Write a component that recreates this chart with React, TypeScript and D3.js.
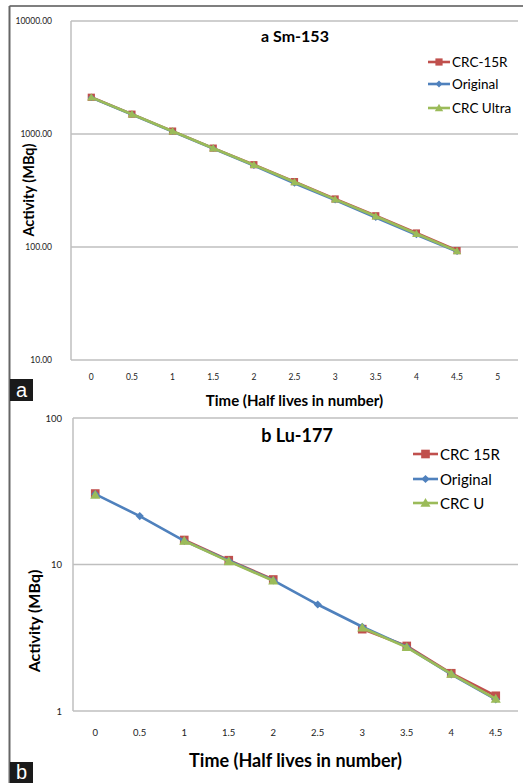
import React from "react";
import * as d3 from "d3";

// ---------- Data ----------
const smCategories = ["0", "0.5", "1", "1.5", "2", "2.5", "3", "3.5", "4", "4.5", "5"];
const smCrc15R: (number | null)[] = [2115, 1498, 1061, 750, 535, 379, 266, 189, 133, 93, null];
const smOriginal: (number | null)[] = [2100, 1490, 1050, 745, 525, 366, 260, 182, 128, 91, null];
const smCrcUltra: (number | null)[] = [2110, 1495, 1058, 748, 532, 376, 264, 187, 131, 92, null];
const smTicks = [10, 100, 1000, 10000];
const smLegend = ["CRC-15R", "Original", "CRC Ultra"];

const luCategories = ["0", "0.5", "1", "1.5", "2", "2.5", "3", "3.5", "4", "4.5"];
const luCrc15R: (number | null)[] = [30.5, null, 14.7, 10.7, 7.9, null, 3.62, 2.78, 1.81, 1.27];
const luOriginal: (number | null)[] = [30.2, 21.4, 14.5, 10.6, 7.8, 5.33, 3.76, 2.74, 1.78, 1.2];
const luCrcU: (number | null)[] = [29.8, null, 14.5, 10.5, 7.75, null, 3.7, 2.72, 1.79, 1.21];
const luTicks = [1, 10, 100];
const luLegend = ["CRC 15R", "Original", "CRC U"];

const RED = "#C0504D";
const BLUE = "#4F81BD";
const GREEN = "#9BBB59";
const GRID = "#BFBFBF";
const FONT = "Lato, 'Open Sans', sans-serif";

type PanelProps = {
  categories: string[];
  series: (number | null)[][];
  legend: string[];
  ticks: number[];
  tickFmt: (v: number) => string;
  x0: number; x1: number; yTop: number; yBot: number;
  domain: [number, number];
  title: string; titleX: number; titleY: number; titleSize: number;
  tickSize: number; yTickX: number; xTickY: number;
  xTitleY: number; xTitleSize: number;
  yTitleX: number; yTitleY: number; yTitleSize: number;
  legX: number; legYs: number[]; legSize: number; legLen: number;
  markerScale: number;
};

function Marker({ kind, x, y, s }: { kind: number; x: number; y: number; s: number }) {
  if (kind === 0) {
    const h = 3.6 * s;
    return <rect x={x - h} y={y - h} width={2 * h} height={2 * h} fill={RED} />;
  }
  if (kind === 1) {
    const h = 3.4 * s;
    return <path d={`M${x},${y - h}L${x + h},${y}L${x},${y + h}L${x - h},${y}Z`} fill={BLUE} />;
  }
  const h = 4.2 * s;
  return <path d={`M${x},${y - h}L${x + h},${y + h * 0.75}L${x - h},${y + h * 0.75}Z`} fill={GREEN} />;
}

function Panel(p: PanelProps) {
  const x = d3.scaleBand<string>().domain(p.categories).range([p.x0, p.x1]);
  const cx = (c: string) => (x(c) as number) + x.bandwidth() / 2;
  const y = d3.scaleLog().domain(p.domain).range([p.yBot, p.yTop]);
  const colors = [RED, BLUE, GREEN];
  const line = d3
    .line<number | null>()
    .defined((d) => d != null)
    .x((_, i) => cx(p.categories[i]))
    .y((d) => y(d as number));
  return (
    <g>
      {p.ticks.map((t) => (
        <g key={t}>
          <line x1={p.x0} x2={p.x1} y1={y(t)} y2={y(t)} stroke={GRID} strokeWidth={1.5} />
          <text x={p.yTickX} y={y(t)} textAnchor="end" dominantBaseline="central" fontSize={p.tickSize} fill="#222" fontFamily={FONT}>
            {p.tickFmt(t)}
          </text>
        </g>
      ))}
      <line x1={p.x0} x2={p.x0} y1={p.yTop} y2={p.yBot} stroke={GRID} strokeWidth={1.5} />
      {p.categories.map((c) => (
        <text key={c} x={cx(c)} y={p.xTickY} textAnchor="middle" dominantBaseline="central" fontSize={p.tickSize} fill="#222" fontFamily={FONT}>
          {c}
        </text>
      ))}
      {p.series.map((s, k) => (
        <g key={k}>
          <path d={line(s) || ""} fill="none" stroke={colors[k]} strokeWidth={2.6} strokeLinejoin="round" />
          {s.map((v, i) =>
            v == null ? null : <Marker key={i} kind={k} x={cx(p.categories[i])} y={y(v)} s={p.markerScale} />
          )}
        </g>
      ))}
      <text x={p.titleX} y={p.titleY} textAnchor="middle" dominantBaseline="central" fontSize={p.titleSize} fontWeight="bold" fill="#000" fontFamily={FONT}>
        {p.title}
      </text>
      <text x={(p.x0 + p.x1) / 2} y={p.xTitleY} textAnchor="middle" dominantBaseline="central" fontSize={p.xTitleSize} fontWeight="bold" fill="#000" fontFamily={FONT}>
        Time (Half lives in number)
      </text>
      <text transform={`translate(${p.yTitleX},${p.yTitleY}) rotate(-90)`} textAnchor="middle" dominantBaseline="central" fontSize={p.yTitleSize} fontWeight="bold" fill="#000" fontFamily={FONT}>
        Activity (MBq)
      </text>
      {p.legend.map((name, k) => (
        <g key={name}>
          <line x1={p.legX} x2={p.legX + p.legLen} y1={p.legYs[k]} y2={p.legYs[k]} stroke={colors[k]} strokeWidth={2.6} />
          <Marker kind={k} x={p.legX + p.legLen / 2} y={p.legYs[k]} s={p.markerScale} />
          <text x={p.legX + p.legLen + 2} y={p.legYs[k]} dominantBaseline="central" fontSize={p.legSize} fill="#000" fontFamily={FONT}>
            {name}
          </text>
        </g>
      ))}
    </g>
  );
}

export default function App() {
  const W = 523;
  const H = 783;
  return (
    <svg width={W} height={H} style={{ position: "absolute", left: 0, top: 0, background: "#fff" }}>
      <rect x={0} y={0} width={W} height={H} fill="#fff" />
      <line x1={9.5} x2={W} y1={6} y2={6} stroke="#555" strokeWidth={1.5} />
      <line x1={9.5} x2={9.5} y1={6} y2={H} stroke="#666" strokeWidth={2} />
      <Panel
        categories={smCategories}
        series={[smCrc15R, smOriginal, smCrcUltra]}
        legend={smLegend}
        ticks={smTicks}
        tickFmt={(v) => v.toFixed(2)}
        x0={71} x1={518} yTop={21} yBot={360}
        domain={[10, 10000]}
        title="a Sm-153" titleX={295} titleY={35} titleSize={16}
        tickSize={8.5} yTickX={52} xTickY={377}
        xTitleY={400} xTitleSize={15}
        yTitleX={28} yTitleY={190} yTitleSize={14.5}
        legX={428} legYs={[62, 84, 108]} legSize={13.5} legLen={22}
        markerScale={1}
      />
      <Panel
        categories={luCategories}
        series={[luCrc15R, luOriginal, luCrcU]}
        legend={luLegend}
        ticks={luTicks}
        tickFmt={(v) => String(v)}
        x0={73} x1={518} yTop={418} yBot={711}
        domain={[1, 100]}
        title="b Lu-177" titleX={297} titleY={435} titleSize={18}
        tickSize={9.5} yTickX={62} xTickY={732}
        xTitleY={760} xTitleSize={18}
        yTitleX={33} yTitleY={621} yTitleSize={16}
        legX={413} legYs={[454, 479, 503]} legSize={15} legLen={25}
        markerScale={1.2}
      />
      <rect x={10} y={379} width={23} height={22} fill="#1a1a1a" />
      <text x={21.5} y={390} textAnchor="middle" dominantBaseline="central" fontSize={20} fill="#fff" fontFamily="'Liberation Sans', Arial, sans-serif">a</text>
      <rect x={10} y={762} width={23} height={21} fill="#1a1a1a" />
      <text x={21.5} y={772} textAnchor="middle" dominantBaseline="central" fontSize={20} fill="#fff" fontFamily="'Liberation Sans', Arial, sans-serif">b</text>
    </svg>
  );
}
